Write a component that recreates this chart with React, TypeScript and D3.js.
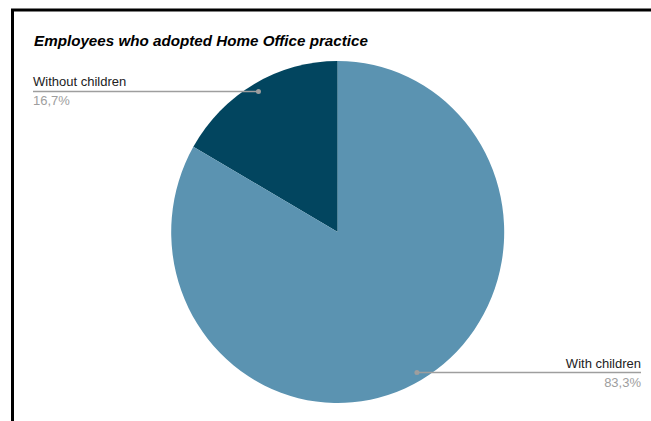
import React from "react";
import * as d3 from "d3";

const categories = ["Without children", "With children"];
const values = [16.7, 83.3];
const valueLabels = ["16,7%", "83,3%"];
const colors = ["#02455f", "#5b93b1"];

const W = 651;
const H = 421;
const cx = 337.7;
const cy = 232;
const R = 166.5;
const SY = 171 / 166.5;

export default function App() {
  const pie = d3
    .pie<number>()
    .sort(null)
    .startAngle(-(values[0] / 100) * 2 * Math.PI)
    .endAngle(2 * Math.PI - (values[0] / 100) * 2 * Math.PI);
  const arcs = pie(values);
  const arc = d3.arc<d3.PieArcDatum<number>>().innerRadius(0).outerRadius(R);
  const dotR = R * 0.95;

  return (
    <svg
      width={W}
      height={H}
      style={{ position: "absolute", left: 0, top: 0, background: "#fff" }}
      fontFamily="'Liberation Sans', Arial, sans-serif"
    >
      <rect x={0} y={0} width={W} height={H} fill="#fff" />
      <line x1={11} y1={10} x2={W} y2={10} stroke="#000" strokeWidth={3} />
      <line x1={12.5} y1={9} x2={12.5} y2={H} stroke="#000" strokeWidth={3} />
      <text x={34} y={46} fontSize={15.2} fontWeight="bold" fontStyle="italic" fill="#000">
        Employees who adopted Home Office practice
      </text>
      <g transform={`translate(${cx},${cy}) scale(1,${SY})`}>
        {arcs.map((a, i) => (
          <path key={i} d={arc(a) || ""} fill={colors[i]} />
        ))}
      </g>
      {arcs.map((a, i) => {
        const mid = (a.startAngle + a.endAngle) / 2;
        const dx = cx + Math.sin(mid) * dotR;
        const dy = cy - Math.cos(mid) * dotR * SY;
        const left = Math.sin(mid) < 0;
        const endX = left ? 33 : 641;
        return (
          <g key={i}>
            <line x1={dx} y1={dy} x2={endX} y2={dy} stroke="#9e9e9e" strokeWidth={1.5} />
            <circle cx={dx} cy={dy} r={2.5} fill="#9e9e9e" />
            <text
              x={endX}
              y={dy - 5}
              fontSize={13}
              fill="#222"
              textAnchor={left ? "start" : "end"}
            >
              {categories[i]}
            </text>
            <text
              x={endX}
              y={dy + 14}
              fontSize={13}
              fill="#9e9e9e"
              textAnchor={left ? "start" : "end"}
            >
              {valueLabels[i]}
            </text>
          </g>
        );
      })}
    </svg>
  );
}
